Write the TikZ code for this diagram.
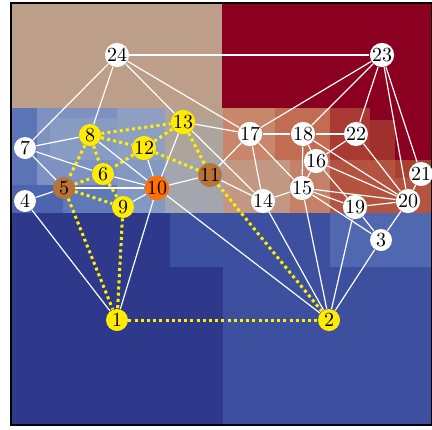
\documentclass[tikz,border=0pt]{standalone}
\usepackage{xcolor}
\usepackage{tikz}

\definecolor{tanbg}{RGB}{188,158,137}
\definecolor{redbg}{RGB}{139,0,32}
\definecolor{bluedark}{RGB}{46,57,140}
\definecolor{bluemid}{RGB}{61,80,160}
\definecolor{bluelight}{RGB}{79,104,176}
\definecolor{vyellow}{RGB}{255,236,0}
\definecolor{vorange}{RGB}{255,112,0}
\definecolor{vbrown}{RGB}{184,115,56}
\definecolor{lyellow}{RGB}{255,240,0}

\tikzset{
  vtx/.style={circle, fill=white, inner sep=0pt, minimum size=11pt, font=\normalsize},
  wedge/.style={white, line width=0.6pt},
  yedge/.style={lyellow, line width=1.5pt, dash pattern=on 1.5pt off 1.6pt}
}

\begin{document}
\begin{tikzpicture}[x=0.5pt, y=-0.5pt]
\useasboundingbox (0,0) rectangle (432,429);

% background blocks
\fill[tanbg] (11,3) rectangle (222,108);
\fill[redbg] (222,3) rectangle (432,108);
\fill[redbg] (370,108) rectangle (432,160);
\fill[bluedark] (11,213) rectangle (223,425);
\fill[bluemid] (223,213) rectangle (432,425);
\fill[bluemid] (170,213) rectangle (223,267);
\fill[bluelight] (330,213) rectangle (432,267);

\fill[fill={rgb,255:red,91;green,116;blue,182}] (11,108) rectangle (63,213);
\fill[fill={rgb,255:red,77;green,101;blue,174}] (11,185) rectangle (63,213);
\fill[fill={rgb,255:red,125;green,146;blue,192}] (37,108) rectangle (117,185);
\fill[fill={rgb,255:red,136;green,155;blue,195}] (50,118) rectangle (117,160);
\fill[fill={rgb,255:red,94;green,120;blue,184}] (63,185) rectangle (117,213);
\fill[fill={rgb,255:red,142;green,159;blue,194}] (117,108) rectangle (165,160);
\fill[fill={rgb,255:red,132;green,153;blue,194}] (117,160) rectangle (165,213);
\fill[fill={rgb,255:red,173;green,165;blue,156}] (165,108) rectangle (223,160);
\fill[fill={rgb,255:red,163;green,166;blue,175}] (165,160) rectangle (223,213);
\fill[fill={rgb,255:red,184;green,160;blue,142}] (190,108) rectangle (223,120);

\fill[fill={rgb,255:red,200;green,134;blue,106}] (223,108) rectangle (275,160);
\fill[fill={rgb,255:red,194;green,108;blue,82}] (275,108) rectangle (330,160);
\fill[fill={rgb,255:red,195;green,152;blue,130}] (223,160) rectangle (290,213);
\fill[fill={rgb,255:red,197;green,128;blue,104}] (290,160) rectangle (330,213);
\fill[fill={rgb,255:red,168;green,58;blue,49}] (330,108) rectangle (370,160);
\fill[fill={rgb,255:red,160;green,48;blue,44}] (370,120) rectangle (395,160);
\fill[fill={rgb,255:red,180;green,84;blue,64}] (330,160) rectangle (432,213);
\fill[fill={rgb,255:red,168;green,64;blue,47}] (395,160) rectangle (432,178);

\draw[black, line width=0.6pt] (11,3) rectangle (431.5,425);

% vertices
\foreach \n/\x/\y in {3/381/240, 4/25/201, 7/25/148, 14/263/201, 15/302/188,
  16/316/161, 17/250/134, 18/303/134, 19/355/207, 20/408/201, 21/421/174,
  22/356/134, 23/382/55, 24/117/55}
  \node[vtx] (n\n) at (\x,\y) {\n};
\foreach \n/\x/\y in {1/117/320, 2/329/320, 6/103/174, 8/90/135, 9/123/207,
  12/144/148, 13/183/122}
  \node[vtx, fill=vyellow] (n\n) at (\x,\y) {\n};
\foreach \n/\x/\y in {5/64/188, 11/210/175}
  \node[vtx, fill=vbrown] (n\n) at (\x,\y) {\n};
\node[vtx, fill=vorange] (n10) at (157,188) {10};

% edges
\foreach \a/\b in {24/23, 24/7, 24/8, 24/13, 24/17, 23/17, 23/18, 23/22,
  23/20, 23/21, 7/8, 7/6, 7/5, 4/5, 4/1, 8/10, 6/10, 5/10, 9/10, 10/1,
  10/13, 10/12, 10/11, 10/2, 13/17, 13/14, 11/17, 11/14, 17/18, 17/14,
  17/15, 18/22, 18/16, 18/15, 18/20, 22/16, 22/20, 16/15, 16/19, 16/20,
  15/14, 15/19, 15/20, 15/3, 15/2, 14/2, 19/20, 19/3, 19/2, 20/21, 20/3, 3/2}
  \draw[wedge] (n\a) -- (n\b);

\foreach \a/\b in {8/13, 8/12, 8/6, 8/5, 12/13, 12/6, 12/11, 13/11, 11/2,
  5/6, 5/9, 5/1, 6/9, 9/1, 1/2}
  \draw[yedge] (n\a) -- (n\b);
\end{tikzpicture}
\end{document}
